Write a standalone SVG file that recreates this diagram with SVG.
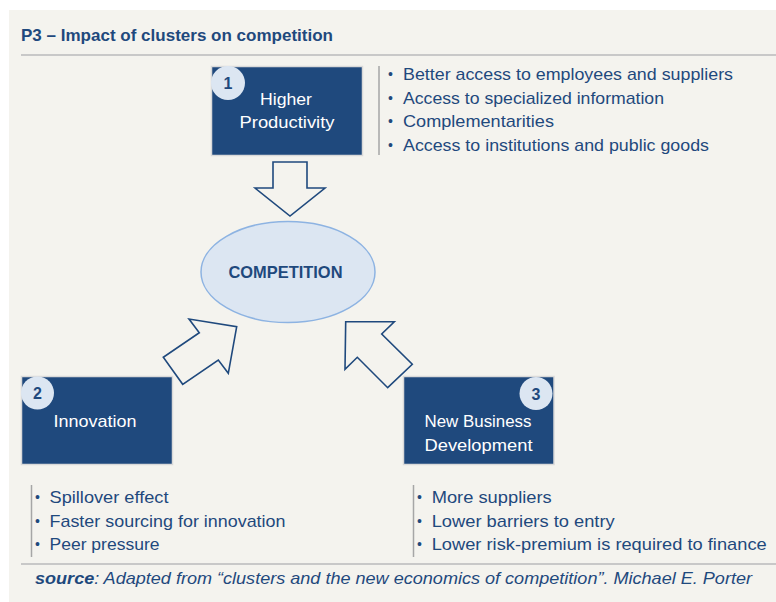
<svg xmlns="http://www.w3.org/2000/svg" width="776" height="602" viewBox="0 0 776 602">
<style>
.bg{fill:#F4F3EE}
.rule{stroke:#C8C8C8;stroke-width:2}
.sep{stroke:#A6A6A6;stroke-width:1.5}
.box{fill:#1F497D;stroke:#D9D9D9;stroke-width:1.5}
.badge{fill:#DCE6F2}
.num{font-family:"Liberation Sans",Arial,sans-serif;font-weight:bold;font-size:16px;fill:#1F497D;text-anchor:middle}
.bt{font-family:"Liberation Sans",Arial,sans-serif;font-size:17px;fill:#FFFFFF;text-anchor:middle}
.li{font-family:"Liberation Sans",Arial,sans-serif;font-size:17px;fill:#1F497D}
.dot{font-family:"Liberation Sans",Arial,sans-serif;font-size:14px;fill:#1F497D}
.arrow{fill:#F4F3EE;stroke:#1F497D;stroke-width:1.6;stroke-linejoin:miter}
.title{font-family:"Liberation Sans",Arial,sans-serif;font-weight:bold;font-size:16.5px;fill:#1F497D}
</style>
<rect class="bg" x="9" y="10" width="767" height="592"/>
<text class="title" x="21" y="41" textLength="312" lengthAdjust="spacingAndGlyphs">P3 – Impact of clusters on competition</text>
<line class="rule" x1="21" y1="55" x2="776" y2="55"/>

<g id="connectors">
<polygon class="arrow" points="273,162 307,162 307,188 325,188 290,216 255,188 273,188"/>
<polygon class="arrow" points="236.7,326.7 228.3,373.3 218.3,360 182.7,384.3 163.3,357.3 199.3,332.7 189,319"/>
<polygon class="arrow" points="345.7,321.7 394.3,321.7 381.7,334 412.3,364.3 387.7,387.7 357.3,357.3 345,369.3"/>
</g>

<g id="competition">
<ellipse cx="288" cy="272" rx="87" ry="50.5" fill="#DCE6F2" stroke="#8DB3E2" stroke-width="1.5"/>
<text x="285.5" y="278" font-family="'Liberation Sans',Arial,sans-serif" font-weight="bold" font-size="16.5" fill="#1F497D" text-anchor="middle" textLength="114" lengthAdjust="spacingAndGlyphs">COMPETITION</text>
</g>

<g id="node1">
<rect class="box" x="211.5" y="66.5" width="151" height="89"/>
<circle class="badge" cx="228" cy="83" r="17"/>
<text class="num" x="228" y="89">1</text>
<text class="bt" x="286" y="105" textLength="52" lengthAdjust="spacingAndGlyphs">Higher</text>
<text class="bt" x="287" y="128" textLength="95" lengthAdjust="spacingAndGlyphs">Productivity</text>
</g>

<g id="list1">
<line class="sep" x1="379" y1="66" x2="379" y2="155"/>
<text class="dot" x="388" y="79">•</text>
<text class="dot" x="388" y="103">•</text>
<text class="dot" x="388" y="126">•</text>
<text class="dot" x="388" y="150">•</text>
<text class="li" x="403" y="80" textLength="330" lengthAdjust="spacingAndGlyphs">Better access to employees and suppliers</text>
<text class="li" x="403" y="104" textLength="261" lengthAdjust="spacingAndGlyphs">Access to specialized information</text>
<text class="li" x="403" y="127" textLength="151" lengthAdjust="spacingAndGlyphs">Complementarities</text>
<text class="li" x="403" y="151" textLength="306" lengthAdjust="spacingAndGlyphs">Access to institutions and public goods</text>
</g>

<g id="node2">
<rect class="box" x="21.5" y="376.5" width="151" height="88"/>
<circle class="badge" cx="37.5" cy="393" r="16.5"/>
<text class="num" x="37.5" y="399">2</text>
<text class="bt" x="95" y="427" textLength="83" lengthAdjust="spacingAndGlyphs">Innovation</text>
</g>

<g id="list2">
<line class="sep" x1="31.5" y1="485" x2="31.5" y2="557"/>
<text class="dot" x="35" y="502">•</text>
<text class="dot" x="35" y="526">•</text>
<text class="dot" x="35" y="549">•</text>
<text class="li" x="49.5" y="503" textLength="119" lengthAdjust="spacingAndGlyphs">Spillover effect</text>
<text class="li" x="49.5" y="527" textLength="236" lengthAdjust="spacingAndGlyphs">Faster sourcing for innovation</text>
<text class="li" x="49.5" y="550" textLength="110" lengthAdjust="spacingAndGlyphs">Peer pressure</text>
</g>

<g id="node3">
<rect class="box" x="403.5" y="376.5" width="150.5" height="88"/>
<circle class="badge" cx="536" cy="393.5" r="16.5"/>
<text class="num" x="536" y="399.5">3</text>
<text class="bt" x="478" y="427" textLength="107" lengthAdjust="spacingAndGlyphs">New Business</text>
<text class="bt" x="478.5" y="451" textLength="108" lengthAdjust="spacingAndGlyphs">Development</text>
</g>

<g id="list3">
<line class="sep" x1="413.5" y1="485" x2="413.5" y2="557"/>
<text class="dot" x="417" y="502">•</text>
<text class="dot" x="417" y="526">•</text>
<text class="dot" x="417" y="549">•</text>
<text class="li" x="431.7" y="503" textLength="120" lengthAdjust="spacingAndGlyphs">More suppliers</text>
<text class="li" x="431.7" y="527" textLength="183" lengthAdjust="spacingAndGlyphs">Lower barriers to entry</text>
<text class="li" x="431.7" y="550" textLength="335" lengthAdjust="spacingAndGlyphs">Lower risk-premium is required to finance</text>
</g>

<line class="rule" x1="21" y1="564" x2="776" y2="564"/>
<text x="35" y="584" font-family="'Liberation Sans',Arial,sans-serif" font-style="italic" font-size="16.5" fill="#1F497D" textLength="717" lengthAdjust="spacingAndGlyphs"><tspan font-weight="bold">source</tspan>: Adapted from “clusters and the new economics of competition”. Michael E. Porter</text>
</svg>
